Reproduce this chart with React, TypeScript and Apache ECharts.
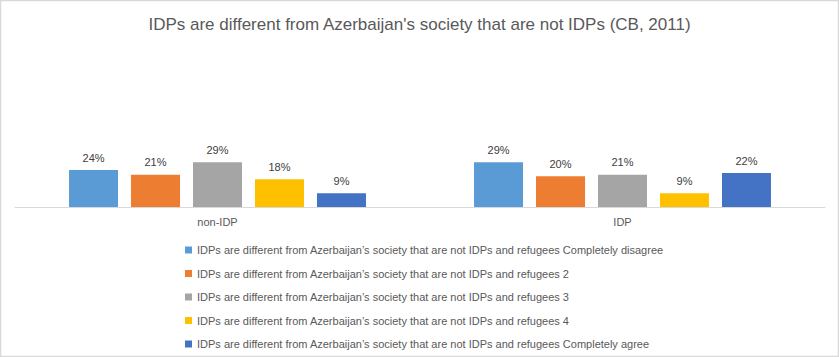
import React, { useEffect, useRef } from "react";
import * as echarts from "echarts";

const categories = ["non-IDP", "IDP"];
const seriesNames = [
  "IDPs are different from Azerbaijan’s society that are not IDPs and refugees Completely disagree",
  "IDPs are different from Azerbaijan’s society that are not IDPs and refugees 2",
  "IDPs are different from Azerbaijan’s society that are not IDPs and refugees 3",
  "IDPs are different from Azerbaijan’s society that are not IDPs and refugees 4",
  "IDPs are different from Azerbaijan’s society that are not IDPs and refugees Completely agree",
];
const completelyDisagree = [24, 29];
const level2 = [21, 20];
const level3 = [29, 21];
const level4 = [18, 9];
const completelyAgree = [9, 22];
const seriesValues = [completelyDisagree, level2, level3, level4, completelyAgree];
const colors = ["#5B9BD5", "#ED7D31", "#A5A5A5", "#FFC000", "#4472C4"];
const title = "IDPs are different from Azerbaijan's society that are not IDPs (CB, 2011)";

const FONT = '"Liberation Sans", sans-serif';

export default function App() {
  const ref = useRef<HTMLDivElement>(null);
  useEffect(() => {
    if (!ref.current) return;
    const chart = echarts.init(ref.current, undefined, { renderer: "svg" });
    chart.setOption({
      animation: false,
      backgroundColor: "#ffffff",
      title: {
        text: title,
        left: "center",
        top: 13,
        padding: 0,
        textStyle: {
          fontFamily: FONT,
          fontSize: 17,
          lineHeight: 22,
          fontWeight: "normal",
          color: "#595959",
        },
      },
      graphic: [
        {
          type: "rect",
          shape: { x: 0.5, y: 0.5, width: 838, height: 356 },
          style: { fill: "none", stroke: "#d9d9d9", lineWidth: 1.5 },
          silent: true,
        },
      ],
      legend: {
        orient: "vertical",
        left: 185,
        top: 243,
        padding: 0,
        itemWidth: 7,
        itemHeight: 7,
        itemGap: 9.5,
        icon: "rect",
        textStyle: {
          fontFamily: FONT,
          fontSize: 11,
          lineHeight: 14,
          color: "#595959",
        },
        data: seriesNames,
      },
      grid: { left: 15, right: 14, top: 145.4, height: 61.6 },
      xAxis: {
        type: "category",
        data: categories,
        axisLine: { lineStyle: { color: "#d9d9d9", width: 1 } },
        axisTick: { show: false },
        axisLabel: {
          margin: 9,
          fontFamily: FONT,
          fontSize: 11,
          color: "#595959",
        },
      },
      yAxis: {
        type: "value",
        min: 0,
        max: 40,
        show: false,
        splitLine: { show: false },
      },
      series: seriesNames.map((name, i) => ({
        name,
        type: "bar",
        data: seriesValues[i],
        barWidth: 49,
        barGap: "26.5%",
        itemStyle: { color: colors[i] },
        label: {
          show: true,
          position: "top",
          distance: 7,
          formatter: "{c}%",
          fontFamily: FONT,
          fontSize: 11,
          color: "#404040",
        },
      })),
    });
    return () => chart.dispose();
  }, []);
  return (
    <div
      ref={ref}
      style={{ position: "absolute", left: 0, top: 0, width: 839, height: 357 }}
    />
  );
}
